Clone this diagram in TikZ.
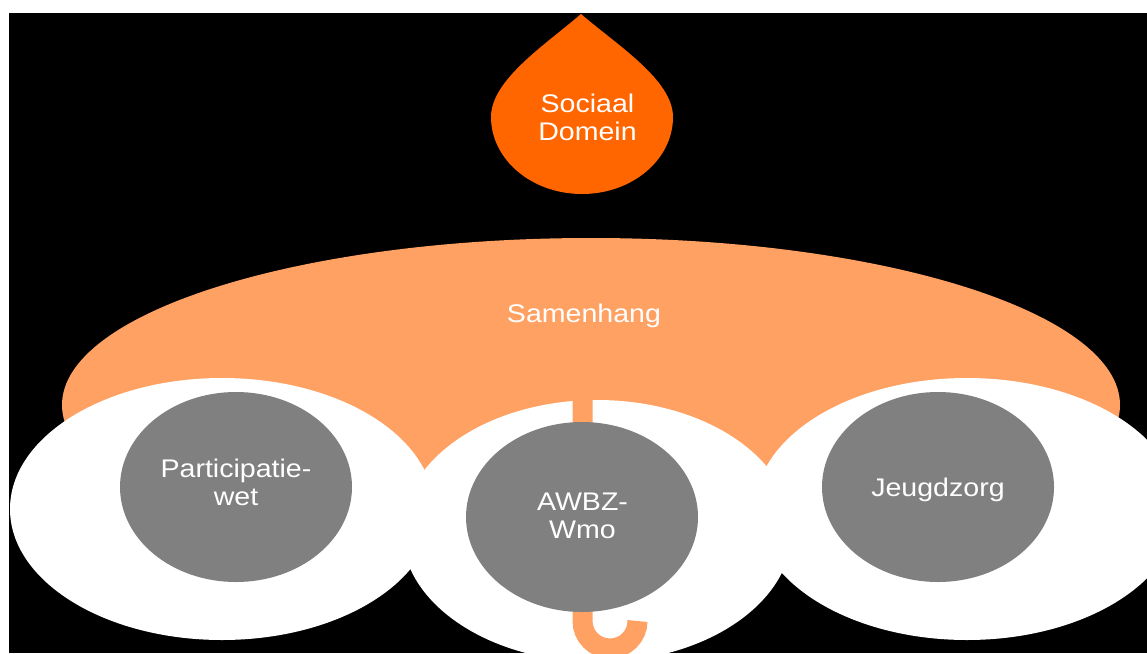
\documentclass[tikz,border=0pt]{standalone}
\usepackage{fontspec}
\setmainfont{Liberation Sans}
\newfontfamily\lab[FakeStretch=1.12]{Liberation Sans}
\usetikzlibrary{shapes.geometric}
\definecolor{dropor}{RGB}{255,102,0}
\definecolor{lightor}{RGB}{255,161,99}
\definecolor{disc}{RGB}{128,128,128}
\begin{document}
\begin{tikzpicture}[x=1pt,y=-1pt,
  lbl/.style={text=white, font=\lab\fontsize{25.5}{28}\selectfont, align=center, inner sep=0pt},
  oval/.style={ellipse, inner sep=0pt, draw=none},
  whiteoval/.style={oval, fill=white, minimum width=424pt, minimum height=262pt},
  greyoval/.style={oval, fill=disc, minimum width=232pt, minimum height=190pt},
  handle/.style={draw=lightor, line width=20pt}
]
\useasboundingbox (0,0) rectangle (1147,653);
\fill[white] (0,0) rectangle (1147,653);
\fill[black] (9,13) rectangle (1147,653);
\begin{scope}
\clip (9,13) rectangle (1147,653);
\node[oval, fill=lightor, minimum width=1058pt, minimum height=334pt] (samen) at (591,405) {};
\node[whiteoval] (wl) at (222,509) {};
\node[whiteoval] (wr) at (967,509) {};
\node[whiteoval, minimum width=390pt] (wm) at (597,531) {};
\coordinate (htop) at (582.5,390);
\coordinate (hbend) at (582.5,621);
\draw[handle] (htop) -- (hbend) arc[start angle=180, end angle=0, radius=27.5];
\node[greyoval] (gl) at (236,487) {};
\node[greyoval] (gm) at (582,517) {};
\node[greyoval] (gr) at (938,487) {};
\fill[dropor] (581,14) .. controls (545,45) and (491,80) .. (491,117)
  .. controls (491,159.5) and (531.7,194) .. (582,194)
  .. controls (632.3,194) and (673,159.5) .. (673,117)
  .. controls (673,80) and (617,45) .. (581,14) -- cycle;
\end{scope}
\node[lbl] (tdrop) at (587.5,117.5) {Sociaal\\Domein};
\node[lbl] (tsamen) at (584,316.4) {Samenhang};
\node[lbl] (tpart) at (236,482.7) {Participatie-\\wet};
\node[lbl] (tawbz) at (582.5,515.5) {AWBZ-\\Wmo};
\node[lbl] (tjeugd) at (938,490) {Jeugdzorg};
\end{tikzpicture}
\end{document}
